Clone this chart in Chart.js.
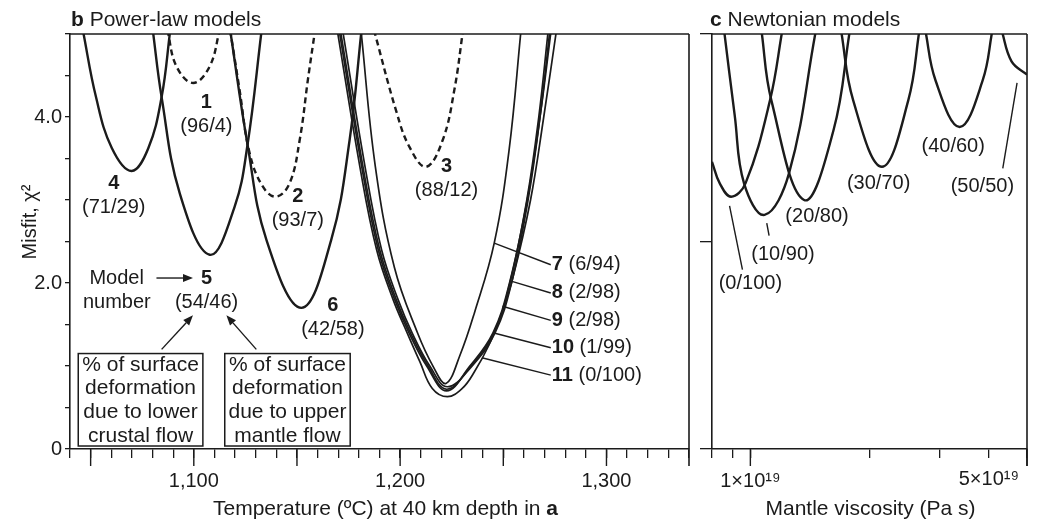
<!DOCTYPE html>
<html>
<head>
<meta charset="utf-8">
<script src="https://cdn.jsdelivr.net/npm/chart.js@4.4.1/dist/chart.umd.min.js"></script>
<style>
  html, body { margin: 0; padding: 0; background: #fff; }
  #wrap { position: relative; width: 1038px; height: 522px; }
  #powerLaw { position: absolute; left: 0; top: 0; }
  #newtonian { position: absolute; left: 690px; top: 0; }
</style>
</head>
<body>
<div id="wrap">
  <canvas id="powerLaw" width="700" height="522"></canvas>
  <canvas id="newtonian" width="348" height="522"></canvas>
</div>
<script>
'use strict';

// ---- b: power-law models, [temperature at 40 km (ºC), misfit]
const model1 = [[1087.2, 5.05], [1091.6, 4.61], [1099.7, 4.41], [1107.7, 4.61], [1112.6, 5.05]];
const model2 = [[1117.6, 5.05], [1122.1, 4.34], [1127.1, 3.56], [1133.5, 3.16], [1139.9, 3.04], [1146.4, 3.20], [1151.3, 3.72], [1155.3, 4.45], [1158.8, 5.05]];
const model3 = [[1187.3, 5.05], [1198.0, 4.08], [1204.5, 3.64], [1212.6, 3.40], [1220.6, 3.72], [1226.3, 4.33], [1230.5, 5.05]];
const model4 = [[1046.2, 5.05], [1052.6, 4.24], [1060.2, 3.63], [1069.8, 3.35], [1077.9, 3.62], [1084.4, 4.24], [1088.6, 5.05]];
const model5 = [[1080.1, 5.05], [1084.4, 4.24], [1093.2, 3.08], [1107.7, 2.34], [1119.8, 2.92], [1126.0, 3.66], [1132.9, 5.05]];
const model6 = [[1117.6, 5.05], [1126.1, 3.66], [1135.2, 2.52], [1152.1, 1.70], [1166.6, 2.52], [1175.5, 3.72], [1181.3, 5.05]];
const model7 = [[1181.0, 5.05], [1188.0, 3.40], [1197.2, 2.19], [1208.4, 1.40], [1216.1, 0.99], [1222.2, 0.79], [1229.0, 1.13], [1236.0, 1.64], [1245.6, 2.48], [1252.8, 3.60], [1258.6, 5.05]];
const model8 = [[1172.1, 5.05], [1183.0, 3.40], [1191.0, 2.40], [1199.0, 1.80], [1205.8, 1.40], [1214.6, 0.99], [1222.9, 0.75], [1234.5, 0.99], [1246.0, 1.40], [1254.0, 2.00], [1262.0, 3.00], [1267.8, 4.00], [1272.6, 5.05]];
const model9 = [[1171.0, 5.05], [1182.0, 3.40], [1190.1, 2.40], [1198.1, 1.80], [1205.0, 1.40], [1213.8, 0.99], [1222.6, 0.72], [1234.0, 0.99], [1245.4, 1.40], [1253.2, 2.00], [1261.4, 3.00], [1267.2, 4.00], [1271.8, 5.05]];
const model10 = [[1170.4, 5.05], [1181.4, 3.40], [1189.4, 2.40], [1197.4, 1.80], [1204.3, 1.40], [1213.1, 0.99], [1222.5, 0.70], [1233.5, 0.99], [1245.0, 1.40], [1253.0, 2.00], [1261.6, 3.00], [1267.8, 4.00], [1273.2, 5.05]];
const model11 = [[1169.5, 5.05], [1180.5, 3.40], [1188.6, 2.40], [1196.6, 1.80], [1203.4, 1.40], [1209.6, 1.05], [1215.6, 0.73], [1222.9, 0.63], [1230.1, 0.73], [1236.0, 0.93], [1243.0, 1.25], [1249.0, 1.62], [1254.5, 2.05], [1263.2, 3.00], [1269.6, 4.00], [1275.8, 5.05]];

const modelCurves = [model1, model2, model3, model4, model5, model6, model7, model8, model9, model10, model11];
const modelNumbers = ['1', '2', '3', '4', '5', '6', '7', '8', '9', '10', '11'];
const modelSplits = ['(96/4)', '(93/7)', '(88/12)', '(71/29)', '(54/46)', '(42/58)', '(6/94)', '(2/98)', '(2/98)', '(1/99)', '(0/100)'];
const dashedModels = ['1', '2', '3'];
const bundleModels = ['7', '8', '9', '10', '11'];

// ---- c: Newtonian models, [mantle viscosity (x10^19 Pa s), misfit]
const newton0 = [[0.800, 3.46], [0.837, 3.20], [0.894, 3.04], [0.972, 3.20], [1.121, 4.20], [1.205, 5.05]];
const newton10 = [[0.858, 5.05], [0.913, 4.02], [0.964, 3.20], [1.086, 2.82], [1.252, 3.32], [1.465, 5.05]];
const newton20 = [[1.066, 5.05], [1.130, 4.20], [1.367, 3.00], [1.622, 3.84], [1.785, 5.05]];
const newton30 = [[1.694, 5.05], [1.819, 4.20], [2.150, 3.40], [2.506, 4.20], [2.675, 5.05]];
const newton40 = [[2.766, 5.05], [2.937, 4.44], [3.380, 3.88], [3.863, 4.44], [4.090, 5.05]];
const newton50 = [[4.310, 5.05], [4.570, 4.67], [5.000, 4.51]];

const newtonCurves = [newton0, newton10, newton20, newton30, newton40, newton50];
const newtonSplits = ['(0/100)', '(10/90)', '(20/80)', '(30/70)', '(40/60)', '(50/50)'];

// ---- axes
const tempLabels = [1100, 1200, 1300];
const tempMajor = [1050, 1100, 1150, 1200, 1250, 1300];
const misfitLabels = [0, 2, 4];
const viscTicks = [0.8, 0.9, 1, 2, 3, 4, 5];
const viscMajor = [1, 5];
const newtonMisfitTicks = [0, 2.5, 5];

const INK = '#1b1b1b';
const FONT = '"Liberation Sans", Arial, Helvetica, sans-serif';

/** set a canvas font */
const setFont = (ctx, size, bold) => {
    ctx.font = (bold ? 'bold ' : '') + size + 'px ' + FONT;
};

/** runs of bold / normal text drawn one after the other */
const drawMixed = (ctx, parts, x, y, size, align) => {
    let total = 0;
    parts.forEach(p => { setFont(ctx, size, p.bold); total += ctx.measureText(p.text).width; });
    let cx = align === 'center' ? x - total / 2 : x;
    ctx.textAlign = 'left';
    parts.forEach(p => {
        setFont(ctx, size, p.bold);
        ctx.fillText(p.text, cx, y);
        cx += ctx.measureText(p.text).width;
    });
};

const line = (ctx, x0, y0, x1, y1, w) => {
    ctx.lineWidth = w;
    ctx.beginPath();
    ctx.moveTo(x0, y0);
    ctx.lineTo(x1, y1);
    ctx.stroke();
};

const arrow = (ctx, x0, y0, x1, y1) => {
    const a = Math.atan2(y1 - y0, x1 - x0);
    const len = 10, half = 4;
    const bx = x1 - len * Math.cos(a), by = y1 - len * Math.sin(a);
    line(ctx, x0, y0, bx, by, 1.4);
    ctx.beginPath();
    ctx.moveTo(x1, y1);
    ctx.lineTo(bx + half * Math.sin(a), by - half * Math.cos(a));
    ctx.lineTo(bx - half * Math.sin(a), by + half * Math.cos(a));
    ctx.closePath();
    ctx.fill();
};

const toPoints = arr => arr.map(p => ({ x: p[0], y: p[1] }));

// annotation anchors, in axis units
const numberAnchors = [
    { id: 0, t: 1106.1, m: 4.17 },
    { id: 1, t: 1150.4, m: 3.04 },
    { id: 2, t: 1222.5, m: 3.40 },
    { id: 3, t: 1061.2, m: 3.20 },
    { id: 4, t: 1106.2, m: 2.06 },
    { id: 5, t: 1167.4, m: 1.73 }
];
const sideAnchors = [
    { id: 6, m: 2.22, t: 1245.6, tm: 2.48 },
    { id: 7, m: 1.88, t: 1254.2, tm: 2.02 },
    { id: 8, m: 1.55, t: 1249.6, tm: 1.72 },
    { id: 9, m: 1.22, t: 1245.0, tm: 1.40 },
    { id: 10, m: 0.89, t: 1239.6, tm: 1.10 }
];
const boxNotes = [
    { lines: ['% of surface', 'deformation', 'due to lower', 'crustal flow'], t0: 1044.0, t1: 1104.4, from: [1084.4, 1.20], to: [1099.6, 1.61] },
    { lines: ['% of surface', 'deformation', 'due to upper', 'mantle flow'], t0: 1115.0, t1: 1175.8, from: [1130.3, 1.20], to: [1115.8, 1.61] }
];
const newtonAnchors = [
    { id: 0, v: 1.000, m: 2.00, leader: [[0.886, 2.93], [0.955, 2.16]] },
    { id: 1, v: 1.209, m: 2.34, leader: [[1.100, 2.72], [1.115, 2.57]] },
    { id: 2, v: 1.474, m: 2.80 },
    { id: 3, v: 2.109, m: 3.20 },
    { id: 4, v: 3.254, m: 3.64 },
    { id: 5, v: 3.857, m: 3.16, leader: [[4.719, 4.41], [4.343, 3.38]] }
];

/** draws frame, long ticks and labels for panel b */
const powerLawDecor = {
    id: 'powerLawDecor',
    afterDraw(chart) {
        const ctx = chart.ctx;
        const area = chart.chartArea;
        const X = v => chart.scales.x.getPixelForValue(v);
        const Y = v => chart.scales.y.getPixelForValue(v);
        ctx.save();
        ctx.strokeStyle = INK;
        ctx.fillStyle = INK;

        line(ctx, area.left, area.top, area.right, area.top, 1.6);
        line(ctx, area.right, area.top, area.right, area.bottom + 17, 1.6);
        tempMajor.forEach(v => line(ctx, X(v), area.bottom, X(v), area.bottom + 17, 1.4));

        // panel title
        ctx.textBaseline = 'alphabetic';
        drawMixed(ctx, [{ text: 'b', bold: true }, { text: ' Power-law models' }], 71, 26, 21, 'left');

        // axis titles
        drawMixed(ctx, [{ text: 'Temperature (ºC) at 40 km depth in ' }, { text: 'a', bold: true }],
            (area.left + area.right) / 2 + 6, 515, 21, 'center');
        ctx.save();
        ctx.translate(36, 222);
        ctx.rotate(-Math.PI / 2);
        setFont(ctx, 20, false);
        ctx.textAlign = 'center';
        ctx.fillText('Misfit, χ²', 0, 0);
        ctx.restore();

        // model numbers with their deformation split underneath
        ctx.textBaseline = 'middle';
        ctx.textAlign = 'center';
        numberAnchors.forEach(a => {
            setFont(ctx, 20, true);
            ctx.fillText(modelNumbers[a.id], X(a.t), Y(a.m));
            setFont(ctx, 20, false);
            ctx.fillText(modelSplits[a.id], X(a.t), Y(a.m - 0.29));
        });

        // labels for the converging curves
        sideAnchors.forEach(a => {
            const lx = X(1273.5);
            line(ctx, X(a.t), Y(a.tm), lx - 1, Y(a.m), 1.4);
            drawMixed(ctx, [{ text: modelNumbers[a.id], bold: true }, { text: ' ' + modelSplits[a.id] }], lx, Y(a.m), 20, 'left');
        });

        // key
        setFont(ctx, 20, false);
        ctx.textAlign = 'center';
        ctx.fillText('Model', X(1062.6), Y(2.06));
        ctx.fillText('number', X(1062.7), Y(1.77));
        arrow(ctx, X(1081.9), Y(2.06), X(1099.6), Y(2.06));
        boxNotes.forEach(b => {
            ctx.lineWidth = 1.5;
            ctx.strokeRect(X(b.t0), Y(1.15), X(b.t1) - X(b.t0), Y(0.036) - Y(1.15));
            setFont(ctx, 21, false);
            ctx.textAlign = 'center';
            const cx = (X(b.t0) + X(b.t1)) / 2;
            [1.01, 0.73, 0.44, 0.16].forEach((m, i) => ctx.fillText(b.lines[i], cx, Y(m)));
            arrow(ctx, X(b.from[0]), Y(b.from[1]), X(b.to[0]), Y(b.to[1]));
        });
        ctx.restore();
    }
};

/** draws frame, long ticks and labels for panel c */
const newtonDecor = {
    id: 'newtonDecor',
    afterDraw(chart) {
        const ctx = chart.ctx;
        const area = chart.chartArea;
        const X = v => chart.scales.x.getPixelForValue(v);
        const Y = v => chart.scales.y.getPixelForValue(v);
        ctx.save();
        ctx.strokeStyle = INK;
        ctx.fillStyle = INK;

        line(ctx, area.left, area.top, area.right, area.top, 1.6);
        line(ctx, area.right, area.top, area.right, area.bottom + 17, 1.6);
        viscMajor.forEach(v => line(ctx, X(v), area.bottom, X(v), area.bottom + 17, 1.4));

        ctx.textBaseline = 'alphabetic';
        drawMixed(ctx, [{ text: 'c', bold: true }, { text: ' Newtonian models' }], 20, 26, 21, 'left');
        drawMixed(ctx, [{ text: 'Mantle viscosity (Pa s)' }], (area.left + area.right) / 2 + 1, 515, 21, 'center');

        // right-hand tick label sits inside the frame
        ctx.textBaseline = 'middle';
        setFont(ctx, 20, false);
        ctx.textAlign = 'right';
        ctx.fillText('5×10¹⁹', X(5) - 8, 479);

        newtonAnchors.forEach(a => {
            setFont(ctx, 20, false);
            ctx.textAlign = 'center';
            ctx.fillText(newtonSplits[a.id], X(a.v), Y(a.m));
            if (a.leader) {
                line(ctx, X(a.leader[0][0]), Y(a.leader[0][1]), X(a.leader[1][0]), Y(a.leader[1][1]), 1.4);
            }
        });
        ctx.restore();
    }
};

const baseOptions = {
    responsive: false,
    animation: false,
    events: [],
    plugins: { legend: { display: false }, tooltip: { enabled: false } },
    elements: {
        point: { radius: 0 },
        line: { tension: 0.4, borderColor: INK, fill: false }
    }
};

const tickFont = { family: FONT, size: 20 };

new Chart(document.getElementById('powerLaw'), {
    type: 'line',
    data: {
        datasets: modelCurves.map((curve, i) => ({
            label: modelNumbers[i],
            data: toPoints(curve),
            borderColor: INK,
            borderWidth: bundleModels.includes(modelNumbers[i]) ? 1.7 : 2.4,
            borderDash: dashedModels.includes(modelNumbers[i]) ? [6, 4] : []
        }))
    },
    options: {
        ...baseOptions,
        layout: { padding: { top: 34, right: 10, left: 0, bottom: 0 } },
        scales: {
            x: {
                type: 'linear',
                min: 1040,
                max: 1340,
                afterFit: s => { s.height = 73; },
                ticks: {
                    stepSize: 10,
                    autoSkip: false,
                    maxRotation: 0,
                    padding: 11,
                    color: INK,
                    font: tickFont,
                    callback: v => tempLabels.includes(v) ? v.toLocaleString('en-US') : ''
                },
                grid: { drawOnChartArea: false, tickLength: 9, color: INK, lineWidth: 1.3 },
                border: { color: INK, width: 1.6 }
            },
            y: {
                min: 0,
                max: 5,
                afterFit: s => { s.width = 70; },
                ticks: {
                    stepSize: 0.5,
                    padding: 3,
                    color: INK,
                    font: tickFont,
                    callback: v => misfitLabels.includes(v) ? (v === 0 ? '0' : v.toFixed(1)) : ''
                },
                grid: { drawOnChartArea: false, tickLength: 5, color: INK, lineWidth: 1.3 },
                border: { color: INK, width: 1.6 }
            }
        }
    },
    plugins: [powerLawDecor]
});

new Chart(document.getElementById('newtonian'), {
    type: 'line',
    data: {
        datasets: newtonCurves.map((curve, i) => ({
            label: newtonSplits[i],
            data: toPoints(curve),
            borderColor: INK,
            borderWidth: 2.4
        }))
    },
    options: {
        ...baseOptions,
        layout: { padding: { top: 34, right: 2, left: 0, bottom: 0 } },
        scales: {
            x: {
                type: 'logarithmic',
                min: 0.8,
                max: 5,
                afterFit: s => { s.height = 73; },
                afterBuildTicks: s => { s.ticks = viscTicks.map(v => ({ value: v })); },
                ticks: {
                    autoSkip: false,
                    maxRotation: 0,
                    padding: 11,
                    color: INK,
                    font: tickFont,
                    callback: v => v === 1 ? '1×10¹⁹' : ''
                },
                grid: { drawOnChartArea: false, tickLength: 9, color: INK, lineWidth: 1.3 },
                border: { color: INK, width: 1.6 }
            },
            y: {
                min: 0,
                max: 5,
                afterFit: s => { s.width = 22; },
                afterBuildTicks: s => { s.ticks = newtonMisfitTicks.map(v => ({ value: v })); },
                ticks: { padding: 0, font: tickFont, callback: () => '' },
                grid: { drawOnChartArea: false, tickLength: 12, color: INK, lineWidth: 1.3 },
                border: { color: INK, width: 1.6 }
            }
        }
    },
    plugins: [newtonDecor]
});
</script>
</body>
</html>
